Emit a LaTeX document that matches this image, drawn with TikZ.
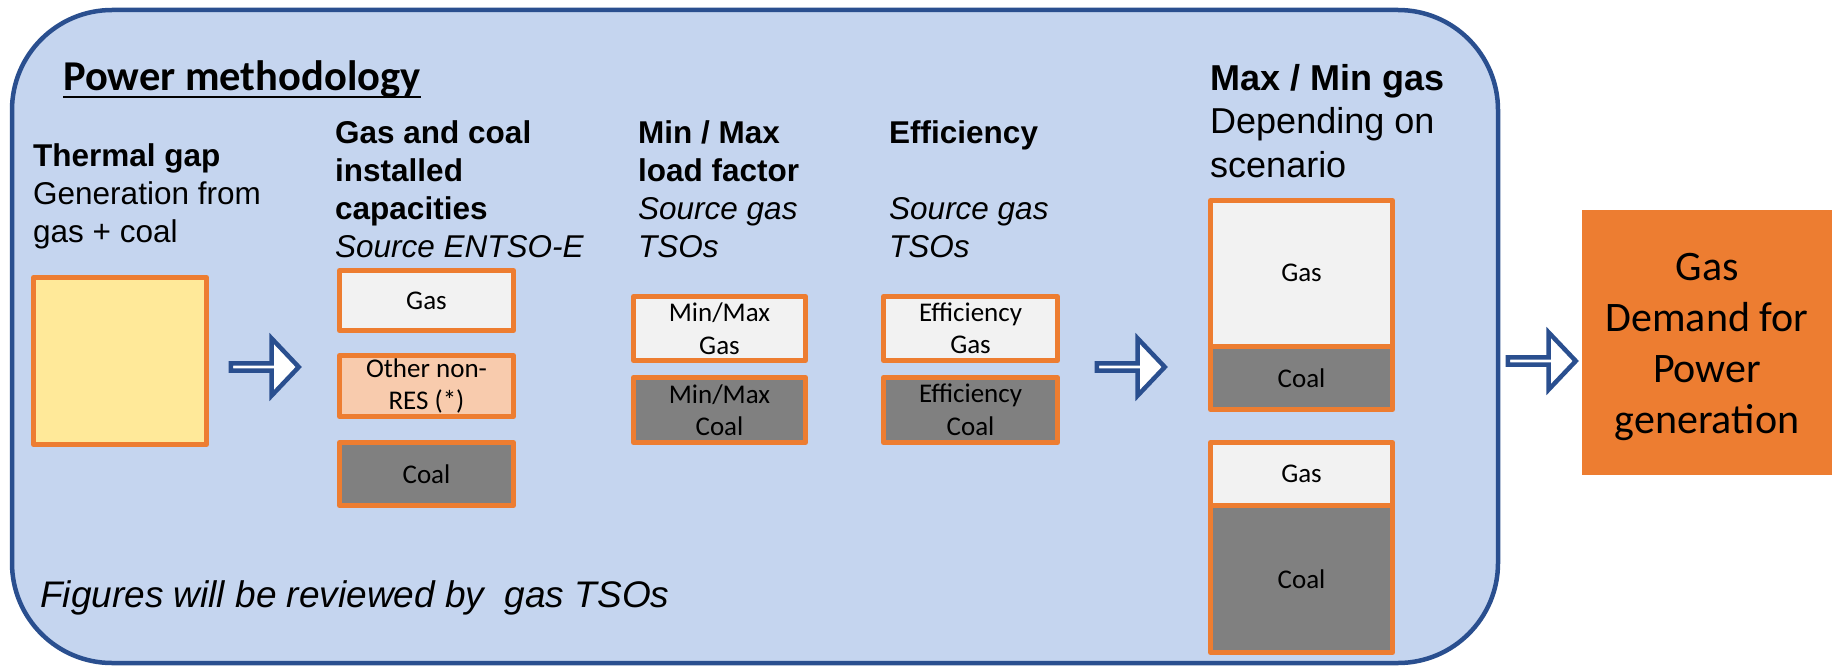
\documentclass[tikz,border=0pt]{standalone}
\usepackage{fontspec}
\setmainfont{Liberation Sans}
\newfontfamily\calibri{Carlito}
\usetikzlibrary{shapes.arrows}

\definecolor{panelblue}{HTML}{C5D5EF}
\definecolor{lineblue}{HTML}{2A4F8F}
\definecolor{accent}{HTML}{ED7D31}
\definecolor{gapyellow}{HTML}{FFE999}
\definecolor{peach}{HTML}{F8CBAD}
\definecolor{lightgas}{HTML}{F2F2F2}
\definecolor{coalgray}{HTML}{808080}

\tikzset{
  cell/.style={draw=accent, line width=5pt, line join=round, inner sep=0pt,
    align=center, font=\calibri\fontsize{27}{32.5}\selectfont},
  % multi-line headings sit on the baseline of their last line
  head/.style={anchor=base west, inner sep=0pt, align=left,
    font=\fontsize{31.5}{38}\selectfont},
  push/.style={single arrow, draw=lineblue, fill=white, line width=4.5pt,
    minimum height=68pt, minimum width=57pt, single arrow head extend=15pt,
    single arrow tip angle=93, inner sep=0pt}
}

\begin{document}
\begin{tikzpicture}[x=1pt,y=-1pt]
  \useasboundingbox (0,0) rectangle (1835,669);
  % methodology panel
  \draw[lineblue, fill=panelblue, line width=4.5pt, rounded corners=100pt] (12,10) rectangle (1498,663);

  \node[anchor=base west, inner sep=0pt, font=\calibri\bfseries\fontsize{42.5}{51}\selectfont] (title) at (63,90) {Power methodology};
  \draw[line width=2.5pt] ([yshift=-7pt]title.base west) -- ([yshift=-7pt]title.base east);

  % column headings
  \node[head] (gaptxt) at (33,242) {\textbf{Thermal gap}\\Generation from\\gas + coal};
  \node[head] (captxt) at (335,257) {\textbf{Gas and coal}\\\textbf{installed}\\\textbf{capacities}\\\textit{Source ENTSO-E}};
  \node[head] (loadtxt) at (638,257) {\textbf{Min / Max}\\\textbf{load factor}\\\textit{Source gas}\\\textit{TSOs}};
  \node[head] (efftxt) at (889,257) {\textbf{Efficiency}\\\mbox{}\\\textit{Source gas}\\\textit{TSOs}};
  \node[head, font=\fontsize{36}{43.5}\selectfont] (maxtxt) at (1210,177) {\textbf{Max / Min gas}\\Depending on\\scenario};

  % boxes
  \node[cell, fill=gapyellow, minimum width=173pt, minimum height=167pt] (gap) at (120,361) {};

  \node[cell, fill=lightgas, minimum width=174pt, minimum height=60pt] (capgas) at (426.5,300.5) {Gas};
  \node[cell, fill=peach, minimum width=174pt, minimum height=61pt] (capother) at (426.5,386) {Other non-\\RES (*)};
  \node[cell, fill=coalgray, minimum width=174pt, minimum height=63pt] (capcoal) at (426.5,474) {Coal};

  \node[cell, fill=lightgas, minimum width=172pt, minimum height=64pt] (loadgas) at (719.5,328.5) {Min/Max\\Gas};
  \node[cell, fill=coalgray, minimum width=172pt, minimum height=65pt] (loadcoal) at (719.5,410) {Min/Max\\Coal};

  \node[cell, fill=lightgas, minimum width=174pt, minimum height=64pt] (effgas) at (970.5,328.5) {Efficiency\\Gas};
  \node[cell, fill=coalgray, minimum width=174pt, minimum height=65pt] (effcoal) at (970.5,410) {Efficiency\\Coal};

  \node[cell, fill=lightgas, minimum width=182pt, minimum height=145.5pt] (maxgas) at (1301.5,273.25) {Gas};
  \node[cell, fill=coalgray, minimum width=182pt, minimum height=63.5pt] (maxcoal) at (1301.5,377.75) {Coal};
  \node[cell, fill=lightgas, minimum width=182pt, minimum height=62.5pt] (mingas) at (1301.5,473.75) {Gas};
  \node[cell, fill=coalgray, minimum width=182pt, minimum height=147.5pt] (mincoal) at (1301.5,578.75) {Coal};

  % result
  \node[fill=accent, minimum width=250pt, minimum height=265pt, inner sep=0pt] (demand) at (1707,342.5) {};
  \node[align=center, inner sep=0pt, font=\calibri\fontsize{42}{51}\selectfont] (demandtxt) at (1707,347) {Gas\\Demand for\\Power\\generation};

  % block arrows
  \node[push] (arrA) at (263,367) {};
  \node[push] (arrB) at (1129,367) {};
  \node[push] (arrC) at (1540,361) {};

  \node[anchor=base west, inner sep=0pt, font=\itshape\fontsize{37}{44}\selectfont] (note) at (40,607) {Figures will be reviewed by\ \ gas TSOs};
\end{tikzpicture}
\end{document}
